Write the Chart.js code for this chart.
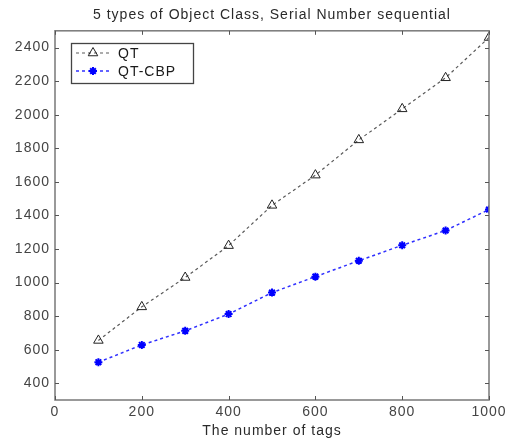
<!DOCTYPE html>
<html>
<head>
<meta charset="utf-8">
<script src="https://cdn.jsdelivr.net/npm/chart.js@4/dist/chart.umd.min.js"></script>
<style>
  html, body { margin: 0; padding: 0; background: #fff; }
  #wrap { width: 511px; height: 438px; }
</style>
</head>
<body>
<div id="wrap"><canvas id="c" width="511" height="438"></canvas></div>
<script>
// ---- Data ----
const tagCounts = [100, 200, 300, 400, 500, 600, 700, 800, 900, 1000];
const qtValues = [655, 855, 1030, 1220, 1460, 1640, 1850, 2035, 2220, 2460];
const qtCbpValues = [525, 628, 712, 812, 940, 1035, 1130, 1222, 1310, 1435];
const xTickValues = [0, 200, 400, 600, 800, 1000];
const yTickValues = [400, 600, 800, 1000, 1200, 1400, 1600, 1800, 2000, 2200, 2400];
const seriesNames = ['QT', 'QT-CBP'];
const chartTitle = '5 types of Object Class, Serial Number sequential';
const xAxisTitle = 'The number of tags';

const FONT = "'Liberation Sans', Arial, sans-serif";
const TEXT_COLOR = '#444444';
const SPACING = '1px';

function setSpacing(chart) {
  if ('letterSpacing' in chart.ctx) chart.ctx.letterSpacing = SPACING;
}

const boxPlugin = {
  id: 'matlabBox',
  beforeInit: setSpacing,
  beforeLayout: setSpacing,
  afterLayout(chart) {
    // center the title over the plot area, as in the reference
    const t = chart.titleBlock, a = chart.chartArea;
    if (t) { t.left = a.left; t.right = a.right; t.width = a.right - a.left; }
  },
  beforeDraw: setSpacing,
  afterDatasetsDraw(chart) {
    const ctx = chart.ctx, a = chart.chartArea;
    const xs = chart.scales.x, ys = chart.scales.y;
    ctx.save();
    ctx.strokeStyle = '#808080';
    ctx.lineWidth = 1.6;
    ctx.strokeRect(a.left, a.top, a.right - a.left, a.bottom - a.top);
    ctx.lineWidth = 1;
    ctx.strokeStyle = '#555';
    const L = 4;
    ctx.beginPath();
    xTickValues.forEach(v => {
      const px = Math.round(xs.getPixelForValue(v)) + 0.5;
      ctx.moveTo(px, a.bottom); ctx.lineTo(px, a.bottom - L);
      ctx.moveTo(px, a.top); ctx.lineTo(px, a.top + L);
    });
    yTickValues.forEach(v => {
      const py = Math.round(ys.getPixelForValue(v)) + 0.5;
      ctx.moveTo(a.left, py); ctx.lineTo(a.left + L, py);
      ctx.moveTo(a.right, py); ctx.lineTo(a.right - L, py);
    });
    ctx.stroke();

    // legend
    const lx = 71, ly = 43, lw = 122, lh = 40;
    ctx.fillStyle = '#fff';
    ctx.fillRect(lx, ly, lw, lh);
    ctx.strokeStyle = '#444';
    ctx.lineWidth = 1.3;
    ctx.strokeRect(lx + 0.5, ly + 0.5, lw, lh);
    chart.data.datasets.forEach((ds, i) => {
      const yy = ly + 10 + i * 18;
      ctx.save();
      ctx.strokeStyle = ds.borderColor;
      ctx.lineWidth = ds.borderWidth;
      ctx.setLineDash(ds.borderDash || []);
      ctx.beginPath();
      ctx.moveTo(lx + 5, yy); ctx.lineTo(lx + 41, yy);
      ctx.stroke();
      ctx.restore();
      const opts = {
        pointStyle: ds.pointStyle, radius: ds.pointRadius, rotation: 0,
        borderWidth: ds.pointBorderWidth
      };
      ctx.save();
      ctx.strokeStyle = ds.pointBorderColor;
      ctx.fillStyle = ds.pointBackgroundColor;
      ctx.lineWidth = ds.pointBorderWidth;
      if (Chart.helpers && Chart.helpers.drawPoint) {
        Chart.helpers.drawPoint(ctx, opts, lx + 22, yy);
      }
      ctx.restore();
      ctx.fillStyle = '#1a1a1a';
      ctx.font = '14px ' + FONT;
      ctx.textBaseline = 'middle';
      ctx.textAlign = 'left';
      ctx.fillText(ds.label, lx + 47, yy + 1);
    });
    ctx.restore();
  }
};

new Chart(document.getElementById('c'), {
  type: 'line',
  data: {
    datasets: [
      {
        label: seriesNames[0],
        data: tagCounts.map((x, i) => ({ x: x, y: qtValues[i] })),
        borderColor: '#5a5a5a',
        borderWidth: 1.2,
        borderDash: [3, 3],
        pointStyle: 'triangle',
        pointRadius: 5.5,
        pointBorderColor: '#222222',
        pointBackgroundColor: 'rgba(255,255,255,0)',
        pointBorderWidth: 1,
        fill: false,
        tension: 0
      },
      {
        label: seriesNames[1],
        data: tagCounts.map((x, i) => ({ x: x, y: qtCbpValues[i] })),
        borderColor: '#3030ff',
        borderWidth: 1.5,
        borderDash: [3, 3],
        pointStyle: 'star',
        pointRadius: 4,
        pointBorderColor: '#0000ff',
        pointBackgroundColor: '#0000ff',
        pointBorderWidth: 2,
        fill: false,
        tension: 0
      }
    ]
  },
  options: {
    responsive: false,
    animation: false,
    devicePixelRatio: 1,
    layout: { padding: { left: 0, right: 22, top: 0, bottom: 0 } },
    plugins: {
      legend: { display: false },
      tooltip: { enabled: false },
      title: {
        display: true,
        text: chartTitle,
        color: '#2a2a2a',
        font: { family: FONT, size: 14, weight: 'normal', lineHeight: 1.2 },
        padding: { top: 7, bottom: 7 }
      }
    },
    scales: {
      x: {
        type: 'linear',
        min: 0, max: 1000,
        afterBuildTicks: s => { s.ticks = xTickValues.map(v => ({ value: v })); },
        afterFit: s => { s.height = 38; },
        grid: { display: false, drawTicks: false },
        border: { display: false },
        ticks: { color: TEXT_COLOR, font: { family: FONT, size: 14 }, padding: 4, maxRotation: 0, autoSkip: false,
                 callback: v => String(v) },
        title: { display: true, text: xAxisTitle, color: '#2a2a2a', font: { family: FONT, size: 14, lineHeight: 1.0 }, padding: { top: 0, bottom: 0 } }
      },
      y: {
        type: 'linear',
        min: 300, max: 2500,
        afterBuildTicks: s => { s.ticks = yTickValues.map(v => ({ value: v })); },
        afterFit: s => { s.width = 55; },
        grid: { display: false, drawTicks: false },
        border: { display: false },
        ticks: { color: TEXT_COLOR, font: { family: FONT, size: 14 }, padding: 5, autoSkip: false,
                 callback: v => String(v) }
      }
    }
  },
  plugins: [boxPlugin]
});
</script>
</body>
</html>
